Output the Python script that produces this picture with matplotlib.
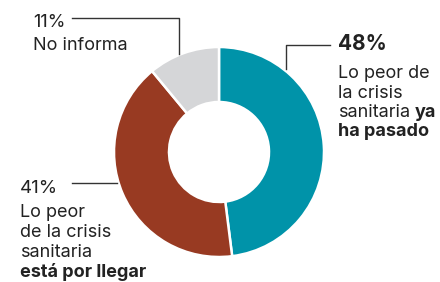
import matplotlib
matplotlib.use('Agg')
import matplotlib.pyplot as plt

# data
labels = ['Lo peor de la crisis sanitaria ya ha pasado',
          'Lo peor de la crisis sanitaria está por llegar',
          'No informa']
values = [48, 41, 11]
colors = ['#0093a9', '#983a22', '#d5d6d8']

plt.rcParams['font.family'] = ['Inter', 'DejaVu Sans']
txt = '#222222'
H = 282  # pixel height, used to flip y

fig = plt.figure(figsize=(4.4, 2.82), dpi=100)
ax = fig.add_axes([0, 0, 1, 1])
ax.set_xlim(0, 440)
ax.set_ylim(0, H)
ax.axis('off')

ax.pie(values, colors=colors, startangle=90, counterclock=False,
       center=(219, H - 152), radius=105,
       wedgeprops=dict(width=55, edgecolor='white', linewidth=1.8))
ax.set_xlim(0, 440)
ax.set_ylim(0, H)
ax.set_aspect('equal')

# leader lines
lc = '#333333'
ax.plot([286, 286, 330], [H - 69, H - 45, H - 45], color=lc, lw=1)
ax.plot([72, 179, 179], [H - 18, H - 18, H - 54], color=lc, lw=1)
ax.plot([72, 117], [H - 183, H - 183], color=lc, lw=1)

fs = 13
# 48%
ax.text(338, H - 50, f'{values[0]}%', fontsize=15, fontweight='bold',
        color=txt, va='baseline')
for i, s in enumerate(['Lo peor de', 'la crisis']):
    ax.text(338, H - 78 - 19.5 * i, s, fontsize=fs, color=txt, va='baseline')
t = ax.text(338, H - 117, 'sanitaria', fontsize=fs, color=txt, va='baseline')
ax.annotate('ya', xy=(1, 0), xycoords=t, xytext=(3.5, 0),
            textcoords='offset points', fontsize=fs, fontweight='bold',
            color=txt, va='bottom')
ax.text(338, H - 136.5, 'ha pasado', fontsize=fs, fontweight='bold',
        color=txt, va='baseline')

# 41%
ax.text(20, H - 193, f'{values[1]}%', fontsize=13.5, color=txt, va='baseline')
for i, s in enumerate(['Lo peor', 'de la crisis', 'sanitaria']):
    ax.text(20, H - 217 - 20 * i, s, fontsize=fs, color=txt, va='baseline')
ax.text(20, H - 277, 'está por llegar', fontsize=fs, fontweight='bold',
        color=txt, va='baseline')

# 11%
ax.text(33, H - 27, f'{values[2]}%', fontsize=fs, color=txt, va='baseline')
ax.text(33, H - 50, labels[2], fontsize=fs, color=txt, va='baseline')

fig.savefig('out.png', dpi=100)
